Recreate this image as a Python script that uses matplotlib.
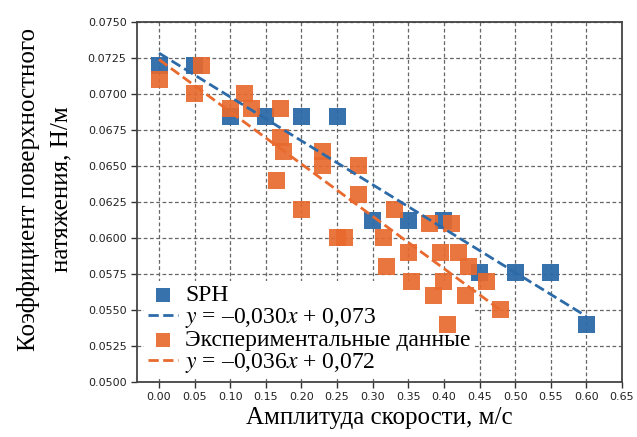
import numpy as np
import matplotlib
matplotlib.use("Agg")
import matplotlib.pyplot as plt

# SPH results
sph_x = [0.00, 0.05, 0.10, 0.15, 0.20, 0.25, 0.30, 0.35, 0.40, 0.45, 0.50, 0.55, 0.60]
sph_y = [0.0720, 0.0720, 0.0684, 0.0684, 0.0684, 0.0684, 0.0612, 0.0612, 0.0612,
         0.0576, 0.0576, 0.0576, 0.0540]

# experimental data
exp_x = [0.00, 0.05, 0.06, 0.10, 0.12, 0.13, 0.17, 0.17, 0.175, 0.165, 0.20, 0.23,
         0.23, 0.25, 0.26, 0.28, 0.28, 0.315, 0.32, 0.33, 0.35, 0.355, 0.38, 0.385,
         0.395, 0.40, 0.405, 0.41, 0.42, 0.43, 0.435, 0.46, 0.48]
exp_y = [0.0710, 0.0700, 0.0720, 0.0690, 0.0700, 0.0690, 0.0690, 0.0670, 0.0660,
         0.0640, 0.0620, 0.0660, 0.0650, 0.0600, 0.0600, 0.0650, 0.0630, 0.0600,
         0.0580, 0.0620, 0.0590, 0.0570, 0.0610, 0.0560, 0.0590, 0.0570, 0.0540,
         0.0610, 0.0590, 0.0560, 0.0580, 0.0570, 0.0550]

x_ticks = [0.00, 0.05, 0.10, 0.15, 0.20, 0.25, 0.30, 0.35, 0.40, 0.45, 0.50, 0.55, 0.60, 0.65]
y_ticks = [0.0500, 0.0525, 0.0550, 0.0575, 0.0600, 0.0625, 0.0650, 0.0675, 0.0700, 0.0725, 0.0750]

BLUE = '#2d6aa8'
ORANGE = '#e86a2e'
SERIF = ['Liberation Serif', 'DejaVu Serif']

plt.rcParams['mathtext.fontset'] = 'stix'

fig = plt.figure(figsize=(6.37, 4.37), dpi=100)
ax = fig.add_axes([0.215, 0.126, 0.7615, 0.824])

# linear fits
k1, b1 = np.polyfit(sph_x, sph_y, 1)
k2, b2 = np.polyfit(exp_x, exp_y, 1)
lx1 = np.array([min(sph_x), max(sph_x)])
lx2 = np.array([min(exp_x), max(exp_x)])

ax.scatter(sph_x, sph_y, marker='s', s=150, color=BLUE, alpha=0.95,
           edgecolors='none', zorder=3, label='SPH')
ax.plot(lx1, k1 * lx1 + b1, '--', color=BLUE, lw=2, zorder=4,
        label=r'$y$ = –0,030$x$ + 0,073')
ax.scatter(exp_x, exp_y, marker='s', s=150, color=ORANGE, alpha=0.92,
           edgecolors='none', zorder=3, label='Экспериментальные данные')
ax.plot(lx2, k2 * lx2 + b2, '--', color=ORANGE, lw=2, zorder=4,
        label=r'$y$ = –0,036$x$ + 0,072')

ax.set_xlim(-0.031, 0.65)
ax.set_ylim(0.05, 0.075)
ax.set_xticks(x_ticks)
ax.set_yticks(y_ticks)
ax.set_xticklabels([f"{v:.2f}" for v in x_ticks])
ax.set_yticklabels([f"{v:.4f}" for v in y_ticks])
ax.tick_params(labelsize=8, length=4, width=1, color='#333333', labelcolor='#222222')

ax.grid(True, linestyle=(0, (3, 2)), color='#666666', lw=0.9)
ax.set_axisbelow(True)
for s in ax.spines.values():
    s.set_color('#444444')
    s.set_linewidth(1.3)

ax.set_xlabel('Амплитуда скорости, м/с', family=SERIF, fontsize=18, labelpad=3)
ax.set_ylabel('Коэффициент поверхностного\nнатяжения, Н/м', family=SERIF,
              fontsize=18, linespacing=1.6)
ax.yaxis.set_label_coords(-0.134, 0.535)

leg = ax.legend(loc='lower left', bbox_to_anchor=(0.005, -0.005),
                prop={'family': SERIF, 'size': 17}, frameon=True,
                facecolor='white', edgecolor='none', framealpha=1.0,
                borderpad=0.15, labelspacing=0.0, handlelength=1.3,
                handletextpad=0.3, borderaxespad=0.2, markerscale=0.8)
leg.set_zorder(2.5)

fig.savefig('out.png', dpi=100)
